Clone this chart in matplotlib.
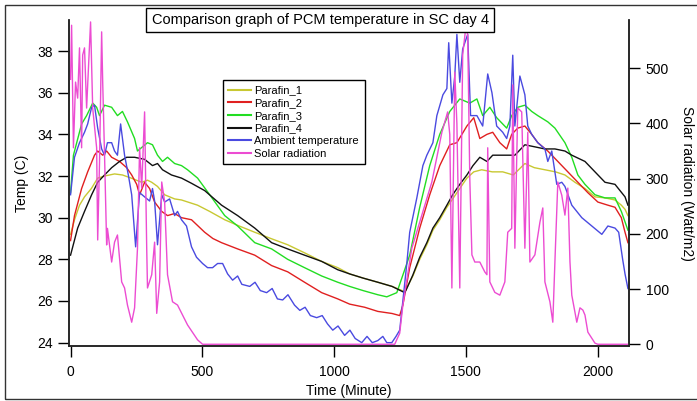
import matplotlib
matplotlib.use("Agg")
import matplotlib.pyplot as plt
from matplotlib.patches import Rectangle

plt.rcParams['font.family'] = ['Liberation Sans', 'DejaVu Sans']

## Data (time in minutes)
t_p1 = [0, 15, 34, 53, 79, 103, 129, 167, 197, 230, 270, 292, 308, 330, 357, 395, 421, 482, 528,
        585, 640, 699, 760, 824, 890, 953, 1014, 1059, 1110, 1166, 1220, 1268, 1299, 1325, 1352,
        1375, 1401, 1428, 1450, 1477, 1504, 1530, 1560, 1600, 1640, 1680, 1724, 1760, 1800, 1840,
        1876, 1914, 1952, 1990, 2028, 2066, 2090, 2104, 2115]
parafin_1 = [29.2, 29.9, 30.6, 31.0, 31.4, 31.9, 32.0, 32.1, 32.05, 31.9, 31.7, 31.8, 31.7, 31.5,
             31.1, 30.9, 30.85, 30.6, 30.3, 29.9, 29.6, 29.3, 29.0, 28.7, 28.3, 27.9, 27.6, 27.3,
             27.1, 26.9, 26.7, 26.45, 27.2, 28.0, 28.7, 29.4, 29.9, 30.5, 30.9, 31.4, 31.9, 32.2,
             32.3, 32.2, 32.2, 32.05, 32.6, 32.4, 32.3, 32.2, 32.05, 31.7, 31.4, 31.0, 30.95,
             30.85, 30.6, 30.4, 30.1]

t_p2 = [0, 15, 42, 65, 91, 103, 122, 137, 156, 186, 213, 232, 251, 262, 281, 300, 319, 346, 368,
        395, 421, 459, 509, 540, 573, 634, 699, 763, 824, 888, 953, 1014, 1059, 1116, 1166, 1220,
        1249, 1261, 1287, 1325, 1363, 1401, 1439, 1466, 1504, 1530, 1553, 1580, 1602, 1629, 1655,
        1674, 1697, 1724, 1750, 1773, 1811, 1849, 1887, 1925, 1963, 2001, 2039, 2066, 2090, 2104,
        2115]
parafin_2 = [28.9, 30.1, 31.4, 32.2, 33.0, 33.2, 33.0, 33.2, 32.9, 32.7, 32.4, 32.05, 31.6, 31.1,
             31.7, 31.4, 30.75, 30.3, 30.1, 30.2, 30.0, 29.9, 29.3, 29.0, 28.8, 28.5, 28.2, 27.7,
             27.4, 26.9, 26.4, 26.1, 25.85, 25.7, 25.5, 25.4, 25.3, 25.8, 27.6, 29.5, 31.1, 32.5,
             33.5, 33.6, 34.4, 34.8, 33.8, 34.0, 34.1, 33.6, 33.3, 34.0, 34.3, 34.4, 34.0, 33.6,
             33.2, 32.7, 32.2, 31.7, 31.2, 30.75, 30.6, 30.5, 30.0, 29.3, 28.8]

t_p3 = [0, 11, 42, 61, 84, 99, 110, 129, 156, 178, 197, 216, 243, 254, 292, 311, 330, 349, 368,
        395, 421, 444, 482, 528, 585, 634, 699, 763, 824, 888, 953, 1014, 1059, 1110, 1166, 1200,
        1238, 1287, 1325, 1363, 1401, 1439, 1477, 1515, 1542, 1564, 1591, 1617, 1655, 1674, 1697,
        1724, 1750, 1773, 1811, 1838, 1876, 1902, 1925, 1952, 1990, 2028, 2066, 2090, 2104, 2115]
parafin_3 = [31.2, 33.0, 34.5, 34.9, 35.5, 35.3, 34.9, 35.4, 35.3, 34.9, 35.1, 34.6, 33.8, 33.2,
             33.6, 33.5, 33.0, 32.7, 32.9, 32.6, 32.5, 32.3, 31.9, 31.1, 30.1, 29.6, 28.8, 28.5,
             28.0, 27.6, 27.2, 26.9, 26.7, 26.5, 26.3, 26.2, 26.4, 28.2, 30.5, 32.5, 34.0, 35.1,
             35.7, 35.5, 35.7, 34.9, 35.3, 34.8, 34.3, 34.9, 35.3, 35.4, 35.1, 34.9, 34.6, 34.3,
             33.6, 32.9, 32.05, 31.6, 31.1, 30.95, 30.95, 30.3, 29.8, 29.4]

t_p4 = [0, 27, 53, 80, 103, 129, 156, 186, 213, 243, 281, 311, 330, 349, 383, 421, 459, 509, 573,
        634, 699, 763, 824, 888, 953, 1014, 1059, 1110, 1166, 1220, 1268, 1276, 1299, 1325, 1352,
        1375, 1401, 1428, 1450, 1477, 1504, 1527, 1553, 1580, 1602, 1629, 1655, 1686, 1724, 1762,
        1800, 1838, 1876, 1902, 1952, 1990, 2028, 2066, 2104, 2115]
parafin_4 = [28.2, 29.5, 30.3, 31.1, 31.7, 32.05, 32.4, 32.7, 32.9, 32.9, 32.8, 32.5, 32.6, 32.3,
             32.05, 31.9, 31.65, 31.3, 30.6, 30.1, 29.5, 28.8, 28.5, 28.2, 27.9, 27.5, 27.3, 27.1,
             26.9, 26.7, 26.4, 26.6, 27.25, 28.1, 28.8, 29.5, 30.0, 30.6, 31.1, 31.6, 32.05, 32.5,
             32.9, 32.7, 33.0, 33.0, 33.0, 33.0, 33.5, 33.4, 33.3, 33.3, 33.2, 33.0, 32.7, 32.2,
             31.7, 31.6, 31.0, 30.6]

t_amb = [0, 15, 34, 53, 65, 80, 91, 103, 118, 129, 140, 156, 167, 178, 190, 205, 220, 232, 247,
         262, 281, 300, 311, 319, 330, 346, 357, 376, 395, 406, 421, 440, 459, 478, 501, 520, 539,
         558, 577, 596, 615, 634, 650, 680, 700, 720, 744, 765, 785, 805, 825, 850, 870, 890, 910,
         934, 955, 975, 995, 1015, 1040, 1060, 1080, 1105, 1125, 1145, 1166, 1185, 1200, 1219,
         1235, 1249, 1261, 1276, 1287, 1314, 1337, 1352, 1375, 1390, 1413, 1428, 1435, 1447, 1458,
         1466, 1477, 1488, 1507, 1518, 1542, 1564, 1583, 1599, 1617, 1640, 1655, 1667, 1678, 1686,
         1705, 1724, 1735, 1750, 1773, 1800, 1811, 1826, 1845, 1864, 1876, 1902, 1940, 1978, 2016,
         2039, 2066, 2080, 2095, 2104, 2115]
ambient = [31.1, 32.9, 33.6, 34.1, 34.5, 35.3, 35.4, 34.3, 33.3, 33.0, 33.6, 33.6, 33.2, 33.0,
           34.5, 33.0, 32.0, 31.1, 28.6, 31.2, 31.0, 30.8, 31.4, 30.8, 28.7, 31.1, 30.75, 30.9,
           30.1, 30.3, 29.9, 29.6, 28.6, 28.1, 27.8, 27.6, 27.6, 27.8, 27.8, 27.3, 27.0, 27.2,
           26.8, 26.7, 26.9, 26.5, 26.4, 26.6, 26.1, 26.05, 26.3, 25.8, 25.55, 25.7, 25.3, 25.2,
           25.3, 24.9, 24.6, 24.8, 24.35, 24.6, 24.2, 24.0, 24.3, 24.0, 24.1, 24.3, 24.0, 24.0,
           24.3, 24.6, 26.0, 27.8, 29.3, 30.95, 32.5, 33.0, 33.6, 34.9, 35.9, 36.2, 38.4, 35.5,
           36.8, 38.8, 36.5, 38.1, 38.8, 34.9, 34.9, 34.4, 36.9, 36.0, 34.4, 34.1, 33.8, 34.4,
           37.8, 34.4, 36.8, 35.9, 34.4, 34.0, 33.6, 33.3, 32.7, 33.2, 31.6, 31.7, 31.5, 30.6,
           30.0, 29.6, 29.2, 29.6, 29.5, 29.3, 28.0, 27.3, 26.6]

t_sun = [0, 4, 11, 19, 27, 34, 42, 46, 53, 61, 76, 84, 99, 103, 110, 118, 122, 129, 137, 140, 156,
         167, 178, 194, 205, 216, 232, 243, 254, 262, 270, 281, 289, 292, 308, 319, 327, 338, 346,
         357, 368, 387, 406, 444, 482, 501, 1230, 1249, 1261, 1295, 1333, 1371, 1409, 1431, 1439,
         1447, 1458, 1466, 1477, 1488, 1500, 1507, 1515, 1523, 1534, 1553, 1572, 1580, 1583, 1591,
         1610, 1629, 1648, 1659, 1674, 1678, 1686, 1697, 1712, 1724, 1735, 1743, 1762, 1781, 1792,
         1800, 1819, 1830, 1838, 1849, 1864, 1876, 1887, 1895, 1902, 1921, 1933, 1944, 1952, 1963,
         1990, 2001, 2115]
solar = [480, 578, 356, 475, 446, 537, 356, 524, 537, 428, 584, 428, 356, 189, 330, 566, 475, 343,
         180, 210, 149, 185, 198, 113, 102, 71, 40, 66, 174, 356, 283, 421, 174, 102, 126, 185, 56,
         113, 294, 258, 126, 77, 71, 35, 8, 0, 0, 20, 71, 174, 234, 294, 384, 421, 380, 102, 493,
         400, 102, 524, 575, 561, 300, 162, 149, 149, 131, 126, 356, 113, 94, 89, 113, 203, 210,
         470, 174, 428, 421, 174, 384, 149, 162, 221, 247, 113, 77, 40, 150, 294, 270, 234, 283,
         150, 89, 40, 66, 62, 53, 22, 2, 0, 0]

x_ticks = [0, 500, 1000, 1500, 2000]
temp_ticks = [24, 26, 28, 30, 32, 34, 36, 38]
sun_ticks = [0, 100, 200, 300, 400, 500]

def main():
    fig = plt.figure(figsize=(6.97, 4.01), dpi=100)
    ax = fig.add_axes([0.0997, 0.1372, 0.8027, 0.8129])
    ax2 = ax.twinx()

    ## Temperature curves on the left axis
    lw = 1.0
    l1, = ax.plot(t_p1, parafin_1, color='#c8c832', lw=lw, label='Parafin_1')
    l2, = ax.plot(t_p2, parafin_2, color='#e02020', lw=lw, label='Parafin_2')
    l3, = ax.plot(t_p3, parafin_3, color='#22dd22', lw=lw, label='Parafin_3')
    l4, = ax.plot(t_p4, parafin_4, color='#111111', lw=lw, label='Parafin_4')
    l5, = ax.plot(t_amb, ambient, color='#4a4ae0', lw=lw, label='Ambient temperature')
    ## Solar radiation on the right axis
    l6, = ax2.plot(t_sun, solar, color='#ec4cd2', lw=lw, label='Solar radiation')

    ax.set_xlim(-4, 2119)
    ax.set_ylim(23.84, 39.49)
    ax2.set_ylim(-3.1, 587.5)
    ax.set_xticks(x_ticks)
    ax.set_yticks(temp_ticks)
    ax2.set_yticks(sun_ticks)

    for a in (ax, ax2):
        a.spines['top'].set_visible(False)
        for s in a.spines.values():
            s.set_linewidth(1.1)
            s.set_color('#222222')
    ax.tick_params(axis='y', direction='out', length=8, width=1.0, labelsize=10, pad=4)
    ax.tick_params(axis='x', direction='out', length=8, width=1.0, labelsize=10, pad=6)
    ax2.tick_params(axis='y', direction='out', length=8, width=1.0, labelsize=10, pad=4)

    ax.set_xlabel('Time (Minute)', fontsize=10, labelpad=3)
    ax.set_ylabel('Temp (C)', fontsize=10, labelpad=6)
    ax2.set_ylabel('Solar radiation (Watt/m2)', fontsize=10, rotation=270, va='bottom', labelpad=8)

    leg = ax2.legend([l1, l2, l3, l4, l5, l6],
                     [l.get_label() for l in (l1, l2, l3, l4, l5, l6)],
                     loc='upper left', bbox_to_anchor=(0.274, 0.816), fontsize=8,
                     frameon=True, fancybox=False, edgecolor='black', framealpha=1,
                     handlelength=2.0, handletextpad=0.35, labelspacing=0.24,
                     borderpad=0.5, borderaxespad=0)
    leg.get_frame().set_linewidth(1.0)
    for h in leg.get_lines():
        h.set_linewidth(1.5)

    fig.text(320 / 697, 1 - 20 / 401, 'Comparison graph of PCM temperature in SC day 4',
             ha='center', va='center', fontsize=10.5,
             bbox=dict(boxstyle='square,pad=0.35', fc='white', ec='black', lw=1.0))

    ## Frame around the whole picture
    fig.add_artist(Rectangle((5 / 697, 2 / 401), 1.0, 1 - 4.5 / 401 - 2 / 401,
                             transform=fig.transFigure, fill=False, lw=1.0, ec='#333333'))

    fig.savefig('out.png', dpi=100)

if __name__ == "__main__":
    main()
